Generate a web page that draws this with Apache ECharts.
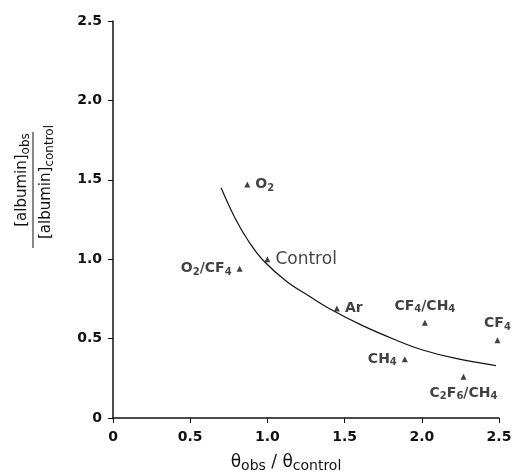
<!DOCTYPE html>
<html>
<head>
<meta charset="UTF-8">
<title>albumin ratio</title>
<script src="https://cdn.jsdelivr.net/npm/echarts@6/dist/echarts.min.js"></script>
<style>
  html, body { margin: 0; padding: 0; background: #fff; }
  #main { width: 512px; height: 476px; }
</style>
</head>
<body>
<div id="main"></div>
<script>
// measured points (triangles)
var pointNames = ['O2', 'Control', 'O2/CF4', 'Ar', 'CF4/CH4', 'CF4', 'CH4', 'C2F6/CH4'];
var pointX = [0.87, 1.0, 0.82, 1.45, 2.02, 2.49, 1.89, 2.27];
var pointY = [1.47, 1.0, 0.94, 0.69, 0.60, 0.49, 0.37, 0.26];
// label text (rich) and side of each point
var pointLabels = ['{b|O}{s|2}', 'Control', '{b|O}{s|2}{b|/CF}{s|4}', '{b|Ar}', '{b|CF}{s|4}{b|/CH}{s|4}', '{b|CF}{s|4}', '{b|CH}{s|4}', '{b|C}{s|2}{b|F}{s|6}{b|/CH}{s|4}'];
var labelSide = ['right', 'right', 'left', 'right', 'top', 'top', 'left', 'bottom'];

// fitted curve
var curveX = [0.70, 0.79, 0.88, 0.975, 1.125, 1.275, 1.40, 1.62, 1.835, 2.0, 2.22, 2.48];
var curveY = [1.45, 1.26, 1.11, 0.99, 0.86, 0.765, 0.69, 0.58, 0.49, 0.43, 0.375, 0.33];

var font = 'DejaVu Sans';
var richStyle = {
    b: { fontFamily: font, fontWeight: 'bold', fontSize: 14, color: '#111' },
    s: { fontFamily: font, fontWeight: 'bold', fontSize: 10, color: '#111', padding: [7, 0, 0, 0] }
};

var chart = echarts.init(document.getElementById('main'));

var pts = [];
for (var i = 0; i < pointNames.length; i++) {
    pts.push({
        name: pointNames[i],
        value: [pointX[i], pointY[i]],
        label: { position: labelSide[i], formatter: pointLabels[i] }
    });
}
var curve = [];
for (var j = 0; j < curveX.length; j++) {
    curve.push([curveX[j], curveY[j]]);
}

function tickFmt(v) {
    return v === 0 ? '0' : v.toFixed(1);
}

var option = {
    backgroundColor: '#fff',
    animation: false,
    grid: { left: 113, right: 13, top: 21, bottom: 58, outerBoundsMode: 'none' },
    xAxis: {
        type: 'value',
        min: 0, max: 2.5, interval: 0.5,
        splitLine: { show: false },
        axisLine: { lineStyle: { color: '#111', width: 1.5 } },
        axisTick: { show: true, length: 5, lineStyle: { color: '#111' } },
        axisLabel: {
            formatter: tickFmt, margin: 12,
            fontFamily: font, fontWeight: 'bold', fontSize: 14, color: '#111'
        },
        name: 'θ{s|obs} / θ{s|control}',
        nameLocation: 'middle',
        nameGap: 34,
        nameTextStyle: {
            fontFamily: font, fontSize: 17, color: '#111',
            padding: [0, 40, 0, 0],
            rich: { s: { fontFamily: font, fontSize: 14, color: '#111', padding: [7, 0, 0, 0] } }
        }
    },
    yAxis: {
        type: 'value',
        min: 0, max: 2.5, interval: 0.5,
        splitLine: { show: false },
        axisLine: { lineStyle: { color: '#111', width: 1.5 } },
        axisTick: { show: true, length: 5, lineStyle: { color: '#111' } },
        axisLabel: {
            formatter: tickFmt, margin: 11,
            fontFamily: font, fontWeight: 'bold', fontSize: 14, color: '#111'
        }
    },
    graphic: [
        {
            type: 'text', x: 22, y: 180, rotation: Math.PI / 2,
            style: {
                text: '[albumin]{s|obs}',
                fontFamily: font, fontSize: 15, fill: '#111',
                align: 'center', verticalAlign: 'middle',
                rich: { s: { fontFamily: font, fontSize: 12, fill: '#111', padding: [7, 0, 0, 0] } }
            }
        },
        {
            type: 'line',
            shape: { x1: 33, y1: 132, x2: 33, y2: 248 },
            style: { stroke: '#111', lineWidth: 1 }
        },
        {
            type: 'text', x: 46, y: 182, rotation: Math.PI / 2,
            style: {
                text: '[albumin]{s|control}',
                fontFamily: font, fontSize: 15, fill: '#111',
                align: 'center', verticalAlign: 'middle',
                rich: { s: { fontFamily: font, fontSize: 12, fill: '#111', padding: [7, 0, 0, 0] } }
            }
        }
    ],
    series: [
        {
            name: 'fit',
            type: 'line',
            smooth: 0.4,
            symbol: 'none',
            data: curve,
            lineStyle: { color: '#111', width: 1.2 }
        },
        {
            name: 'points',
            type: 'scatter',
            symbol: 'triangle',
            symbolSize: 6,
            itemStyle: { color: '#111' },
            data: pts,
            label: {
                show: true,
                distance: 5,
                fontFamily: font, fontSize: 17, color: '#111',
                rich: richStyle
            }
        }
    ]
};

chart.setOption(option);
</script>
</body>
</html>
